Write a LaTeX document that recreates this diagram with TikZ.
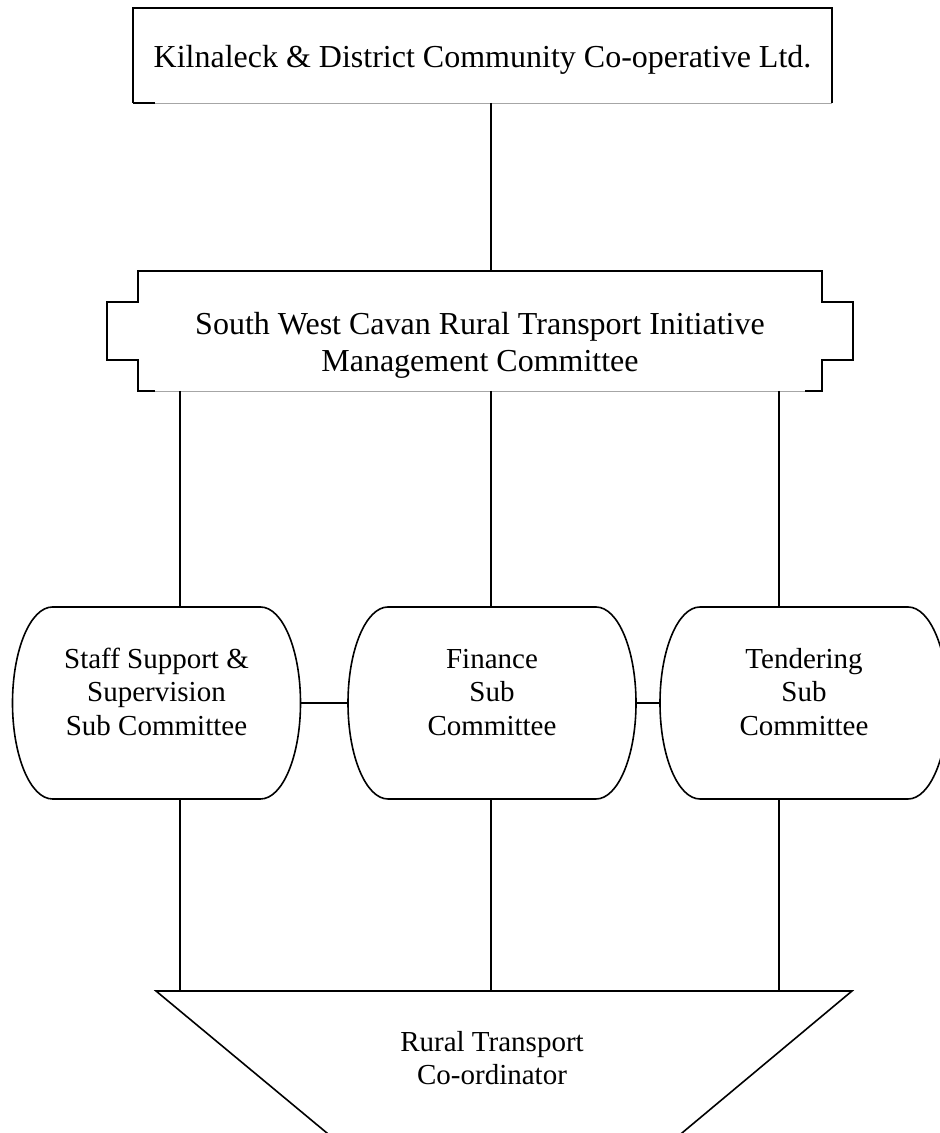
\documentclass[tikz,border=0pt]{standalone}
\usepackage{fontspec}
\setmainfont{Liberation Serif}

\begin{document}
\begin{tikzpicture}[x=1pt,y=1pt,line width=1.6pt,
  head/.style={font=\fontsize{32}{37}\selectfont,align=center,inner sep=0pt,outer sep=0pt},
  sub/.style={font=\fontsize{29}{33.5}\selectfont,align=center,inner sep=0pt,outer sep=0pt,
    minimum width=288pt,minimum height=192pt,text height=65pt,text depth=0pt},
  faint/.style={line width=0.8pt,gray!70}]
\useasboundingbox (0,0) rectangle (940,1133);

% columns for the vertical connectors
\coordinate (c1) at (180,0);
\coordinate (c2) at (491,0);
\coordinate (c3) at (779,0);

% co-operative
\node (coop) at (482.5,1077.5) [head,minimum width=699pt,minimum height=95pt,text height=25pt,text depth=0pt] {Kilnaleck \& District Community Co-operative Ltd.};
\draw (coop.south west) -- (coop.north west) -- (coop.north east) -- (coop.south east);
\draw [faint] (coop.south west) -- (coop.south east);
\draw (coop.south west) -- ++(22,0);

% management committee
\node (mgmt) at (480,802) [head,minimum width=684pt,minimum height=120pt,text height=82pt,text depth=0pt] {South West Cavan Rural Transport Initiative\\Management Committee};
\draw ([xshift=17pt]mgmt.south west) -- (mgmt.south west) -- ++(0,31) -- ++(-31,0) -- ++(0,58) -- ++(31,0)
  -- (mgmt.north west) -- (mgmt.north east) -- ++(0,-31) -- ++(31,0) -- ++(0,-58) -- ++(-31,0)
  -- (mgmt.south east) -- ++(-17,0);
\draw [faint] ([xshift=17pt]mgmt.south west) -- ([xshift=-17pt]mgmt.south east);

% sub committees
\node (staff) at (156.5,430) [sub] {Staff Support \&\\Supervision\\Sub Committee};
\node (finance) at (492,430) [sub] {Finance\\Sub\\Committee};
\node (tender) at (804,430) [sub] {Tendering\\Sub\\Committee};
\foreach \n in {staff,finance,tender}
  \draw ([xshift=40pt]\n.north west) -- ([xshift=-40pt]\n.north east)
    arc[start angle=90,end angle=-90,x radius=40pt,y radius=96pt]
    -- ([xshift=40pt]\n.south west)
    arc[start angle=270,end angle=90,x radius=40pt,y radius=96pt] -- cycle;

% co-ordinator
\node (rto) at (492,48) [anchor=base,font=\fontsize{29}{33}\selectfont,align=center,inner sep=0pt] {Rural Transport\\Co-ordinator};
\coordinate (rtoleft) at (156,142);
\coordinate (rtoright) at (852,142);
\draw (rtoleft) -- (rtoright) -- (658,-20) -- (351,-20) -- cycle;

% connectors
\draw (coop.south -| c2) -- (mgmt.north -| c2);
\foreach \c/\n in {c1/staff,c2/finance,c3/tender} {
  \draw (mgmt.south -| \c) -- (\n.north -| \c);
  \draw (\n.south -| \c) -- (rtoleft -| \c);
}
\draw (staff.east) -- (finance.west);
\draw (finance.east) -- (tender.west);
\end{tikzpicture}
\end{document}
